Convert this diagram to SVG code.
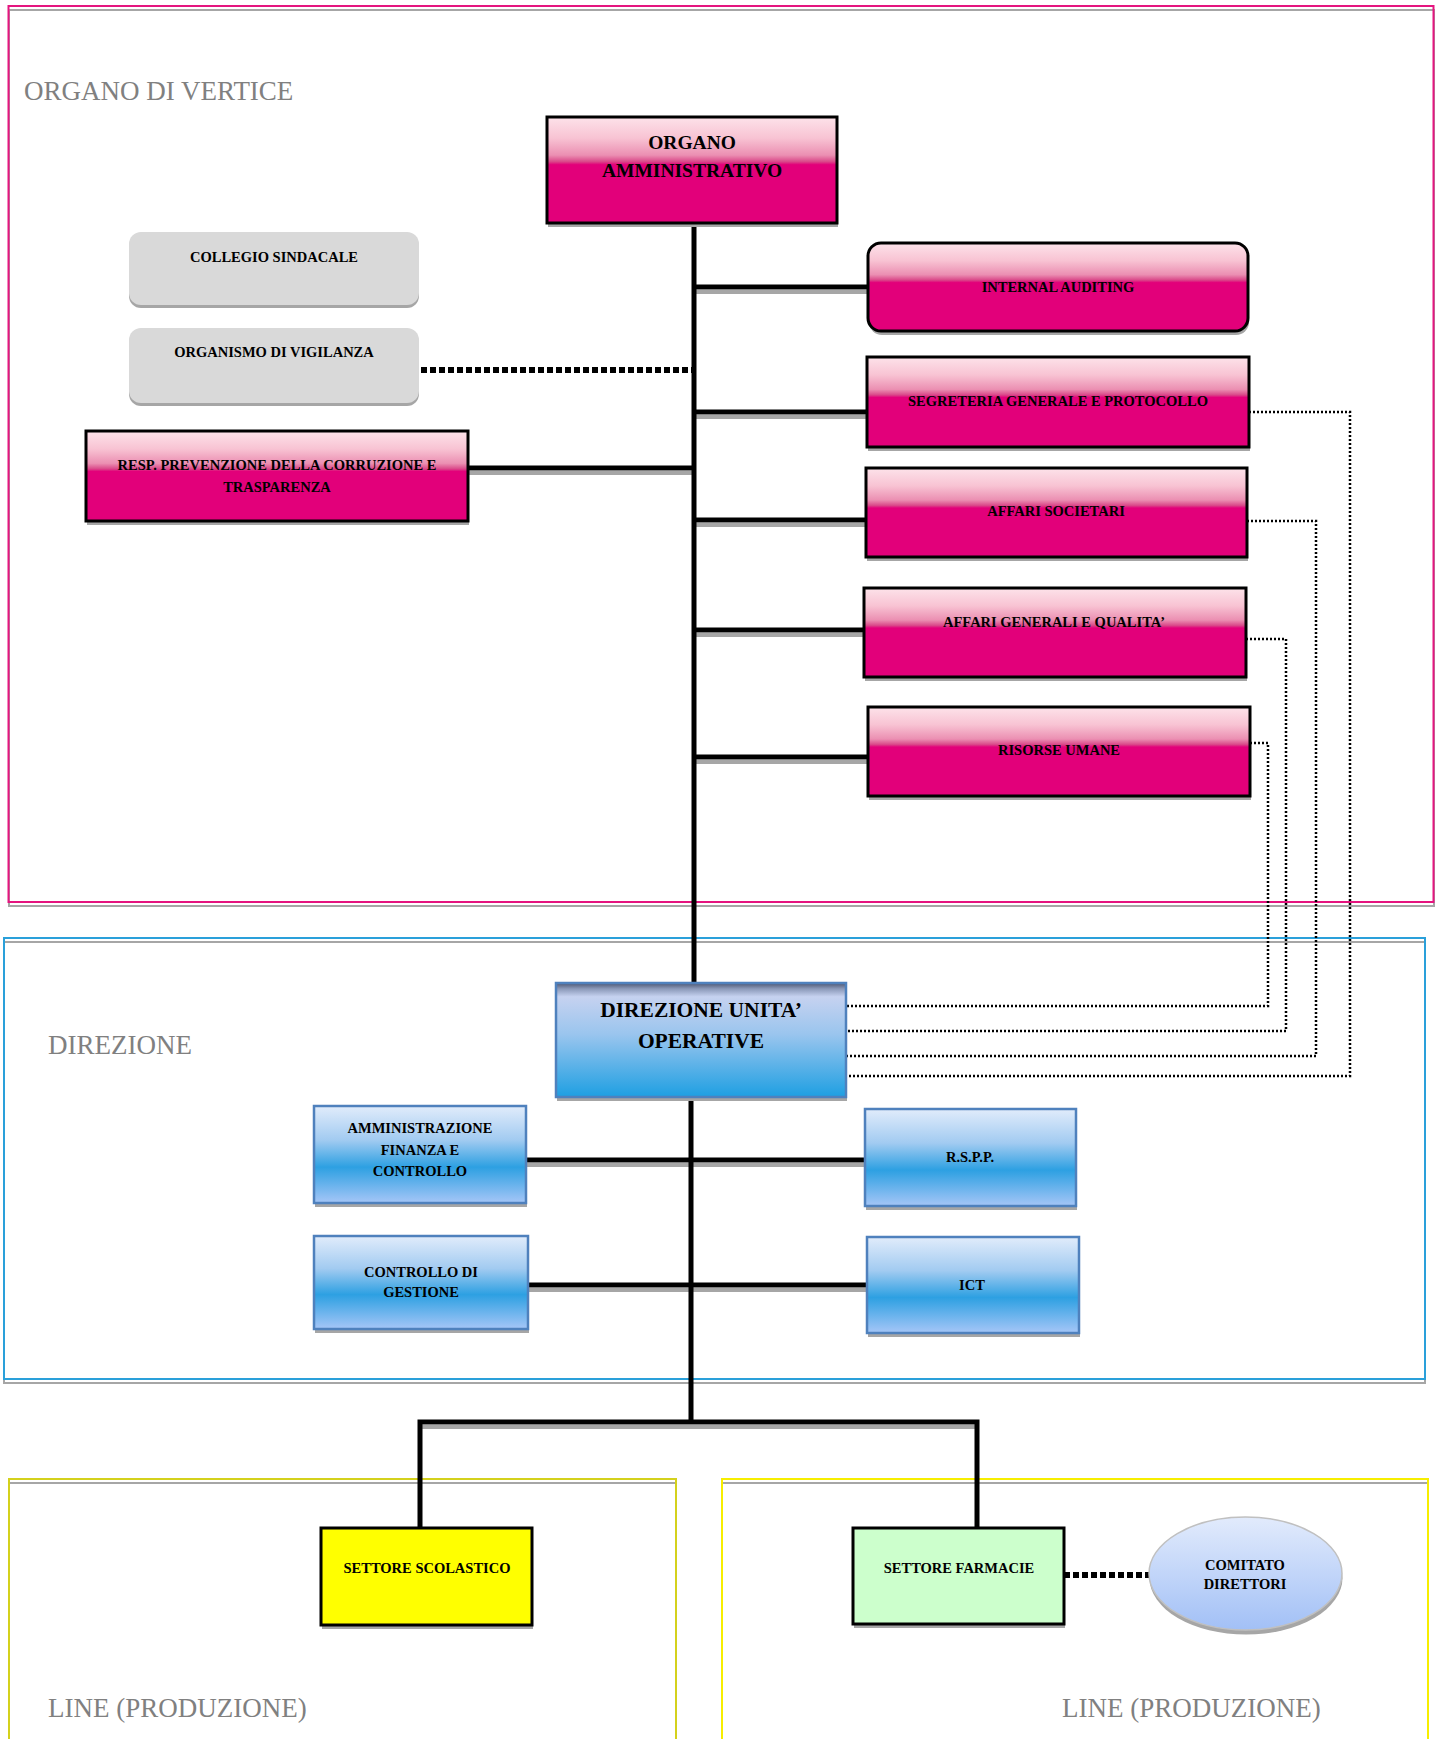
<svg xmlns="http://www.w3.org/2000/svg" width="1440" height="1739" viewBox="0 0 1440 1739">
<defs>
<linearGradient id="gPink" x1="0" y1="0" x2="0" y2="1">
<stop offset="0" stop-color="#fde3ea"/>
<stop offset="0.2" stop-color="#f8c3d3"/>
<stop offset="0.36" stop-color="#eb8fb2"/>
<stop offset="0.42" stop-color="#da4a8a"/>
<stop offset="0.45" stop-color="#e2007a"/>
<stop offset="1" stop-color="#e2007a"/>
</linearGradient>
<linearGradient id="gBlue" x1="0" y1="0" x2="0" y2="1">
<stop offset="0" stop-color="#e1ecfb"/>
<stop offset="0.35" stop-color="#a2cbf1"/>
<stop offset="0.63" stop-color="#2da0e2"/>
<stop offset="1" stop-color="#a6c6f7"/>
</linearGradient>
<linearGradient id="gDir" x1="0" y1="0" x2="0" y2="1">
<stop offset="0" stop-color="#4b5570"/>
<stop offset="0.05" stop-color="#8a98b8"/>
<stop offset="0.12" stop-color="#c6d2f0"/>
<stop offset="0.45" stop-color="#9ac5ee"/>
<stop offset="1" stop-color="#1e9fe2"/>
</linearGradient>
<linearGradient id="gEll" x1="0" y1="0" x2="0" y2="1">
<stop offset="0" stop-color="#e2ebfc"/>
<stop offset="1" stop-color="#a2c0f6"/>
</linearGradient>
</defs>
<style>
.lbl{font-family:"Liberation Serif",serif;font-size:27px;fill:#808080}
.t{font-family:"Liberation Serif",serif;font-weight:bold;font-size:14.5px;fill:#000;text-anchor:middle}
.big{font-size:19.5px}
.dir{font-size:21.5px}
.pink{fill:url(#gPink);stroke:#000;stroke-width:3}
.gray{fill:#d9d9d9}
.blue{fill:url(#gBlue);stroke:#4f81bd;stroke-width:2.5}
.sh{fill:#a6a6a6}
.ln{stroke:#000;stroke-width:5;fill:none}
.lsh{stroke:#a6a6a6;stroke-width:4;fill:none}
.dot{stroke:#000;stroke-width:2.5;stroke-dasharray:2 2;fill:none}
.thick{stroke:#000;stroke-width:6;stroke-dasharray:6 3;fill:none}
</style>
<rect width="1440" height="1739" fill="#fff"/>

<g id="frames">
<rect x="9" y="10" width="1425" height="896" fill="none" stroke="#a6a6a6" stroke-width="2"/>
<rect x="8.5" y="6" width="1425" height="896" fill="none" stroke="#e5157f" stroke-width="2"/>
<rect x="4" y="942" width="1421" height="441" fill="none" stroke="#a6a6a6" stroke-width="2"/>
<rect x="4" y="938" width="1421" height="441" fill="none" stroke="#2aa0da" stroke-width="2"/>
<rect x="9" y="1483" width="667" height="300" fill="none" stroke="#a6a6a6" stroke-width="2"/>
<rect x="9" y="1479" width="667" height="300" fill="none" stroke="#d4d11c" stroke-width="2"/>
<rect x="722" y="1483" width="706" height="300" fill="none" stroke="#a6a6a6" stroke-width="2"/>
<rect x="722" y="1479" width="706" height="300" fill="none" stroke="#f7ee00" stroke-width="2"/>
<text class="lbl" x="24" y="100">ORGANO DI VERTICE</text>
<text class="lbl" x="48" y="1054">DIREZIONE</text>
<text class="lbl" x="48" y="1717">LINE (PRODUZIONE)</text>
<text class="lbl" x="1062" y="1717">LINE (PRODUZIONE)</text>
</g>

<g id="connectors">
<line class="lsh" x1="694" y1="292" x2="868" y2="292"/>
<line class="lsh" x1="694" y1="417" x2="867" y2="417"/>
<line class="lsh" x1="694" y1="525" x2="866" y2="525"/>
<line class="lsh" x1="694" y1="635" x2="864" y2="635"/>
<line class="lsh" x1="694" y1="762" x2="868" y2="762"/>
<line class="lsh" x1="468" y1="473" x2="694" y2="473"/>
<line class="lsh" x1="526" y1="1165" x2="865" y2="1165"/>
<line class="lsh" x1="528" y1="1290" x2="867" y2="1290"/>
<line class="lsh" x1="420" y1="1427" x2="977" y2="1427"/>
<line class="ln" x1="694" y1="224" x2="694" y2="983"/>
<line class="ln" x1="691" y1="1097" x2="691" y2="1424"/>
<line class="ln" x1="694" y1="287" x2="868" y2="287"/>
<line class="ln" x1="694" y1="412" x2="867" y2="412"/>
<line class="ln" x1="694" y1="520" x2="866" y2="520"/>
<line class="ln" x1="694" y1="630" x2="864" y2="630"/>
<line class="ln" x1="694" y1="757" x2="868" y2="757"/>
<line class="ln" x1="468" y1="468" x2="694" y2="468"/>
<line class="ln" x1="526" y1="1160" x2="865" y2="1160"/>
<line class="ln" x1="528" y1="1285" x2="867" y2="1285"/>
<path class="ln" d="M420,1528 V1422 H977 V1528"/>
<line class="thick" x1="421" y1="370" x2="692" y2="370"/>
<line class="thick" x1="1064" y1="1575" x2="1149" y2="1575"/>
<path class="dot" d="M1249,412 H1350 V1076 H846"/>
<path class="dot" d="M1247,521 H1316 V1056 H846"/>
<path class="dot" d="M1246,639 H1286 V1031 H846"/>
<path class="dot" d="M1250,743 H1268 V1006 H846"/>
</g>

<g id="organo-amministrativo">
<rect class="sh" x="548" y="121" width="290" height="106"/>
<rect class="pink" x="547" y="117" width="290" height="106"/>
<text class="t big" x="692" y="149">ORGANO</text>
<text class="t big" x="692" y="177">AMMINISTRATIVO</text>
</g>

<g id="collegio-sindacale">
<rect class="sh" x="129" y="235" width="290" height="73" rx="12"/>
<rect class="gray" x="129" y="232" width="290" height="73" rx="12"/>
<text class="t" x="274" y="262">COLLEGIO SINDACALE</text>
</g>

<g id="organismo-vigilanza">
<rect class="sh" x="129" y="331" width="290" height="75" rx="12"/>
<rect class="gray" x="129" y="328" width="290" height="75" rx="12"/>
<text class="t" x="274" y="357">ORGANISMO DI VIGILANZA</text>
</g>

<g id="resp-prevenzione">
<rect class="sh" x="87" y="435" width="382" height="90"/>
<rect class="pink" x="86" y="431" width="382" height="90"/>
<text class="t" x="277" y="470">RESP. PREVENZIONE DELLA CORRUZIONE E</text>
<text class="t" x="277" y="492">TRASPARENZA</text>
</g>

<g id="internal-auditing">
<rect class="sh" x="869" y="247" width="380" height="88" rx="13"/>
<rect class="pink" x="868" y="243" width="380" height="88" rx="13"/>
<text class="t" x="1058" y="292">INTERNAL AUDITING</text>
</g>

<g id="segreteria">
<rect class="sh" x="868" y="361" width="382" height="90"/>
<rect class="pink" x="867" y="357" width="382" height="90"/>
<text class="t" x="1058" y="406">SEGRETERIA GENERALE E PROTOCOLLO</text>
</g>

<g id="affari-societari">
<rect class="sh" x="867" y="472" width="381" height="89"/>
<rect class="pink" x="866" y="468" width="381" height="89"/>
<text class="t" x="1056" y="516">AFFARI SOCIETARI</text>
</g>

<g id="affari-generali">
<rect class="sh" x="865" y="592" width="382" height="89"/>
<rect class="pink" x="864" y="588" width="382" height="89"/>
<text class="t" x="1054" y="627">AFFARI GENERALI E QUALITA’</text>
</g>

<g id="risorse-umane">
<rect class="sh" x="869" y="711" width="382" height="89"/>
<rect class="pink" x="868" y="707" width="382" height="89"/>
<text class="t" x="1059" y="755">RISORSE UMANE</text>
</g>

<g id="direzione">
<rect class="sh" x="557" y="987" width="290" height="114"/>
<rect x="556" y="983" width="290" height="114" fill="url(#gDir)" stroke="#4f81bd" stroke-width="2.5"/>
<text class="t dir" x="701" y="1017">DIREZIONE UNITA’</text>
<text class="t dir" x="701" y="1048">OPERATIVE</text>
</g>

<g id="amministrazione">
<rect class="sh" x="315" y="1110" width="212" height="97"/>
<rect class="blue" x="314" y="1106" width="212" height="97"/>
<text class="t" x="420" y="1133">AMMINISTRAZIONE</text>
<text class="t" x="420" y="1155">FINANZA E</text>
<text class="t" x="420" y="1176">CONTROLLO</text>
</g>

<g id="rspp">
<rect class="sh" x="866" y="1113" width="211" height="97"/>
<rect class="blue" x="865" y="1109" width="211" height="97"/>
<text class="t" x="970" y="1162">R.S.P.P.</text>
</g>

<g id="controllo-gestione">
<rect class="sh" x="315" y="1240" width="214" height="93"/>
<rect class="blue" x="314" y="1236" width="214" height="93"/>
<text class="t" x="421" y="1277">CONTROLLO DI</text>
<text class="t" x="421" y="1297">GESTIONE</text>
</g>

<g id="ict">
<rect class="sh" x="868" y="1241" width="212" height="96"/>
<rect class="blue" x="867" y="1237" width="212" height="96"/>
<text class="t" x="972" y="1290">ICT</text>
</g>

<g id="settore-scolastico">
<rect class="sh" x="322" y="1532" width="211" height="97"/>
<rect x="321" y="1528" width="211" height="97" fill="#ffff00" stroke="#000" stroke-width="3"/>
<text class="t" x="427" y="1573">SETTORE SCOLASTICO</text>
</g>

<g id="settore-farmacie">
<rect class="sh" x="854" y="1532" width="211" height="96"/>
<rect x="853" y="1528" width="211" height="96" fill="#ccffcc" stroke="#000" stroke-width="3"/>
<text class="t" x="959" y="1573">SETTORE FARMACIE</text>
</g>

<g id="comitato-direttori">
<ellipse cx="1246" cy="1578" rx="96.5" ry="56.5" fill="#a6a6a6"/>
<ellipse cx="1245.5" cy="1573.5" rx="96.5" ry="56.5" fill="url(#gEll)" stroke="#c0c0c0" stroke-width="1.5"/>
<text class="t" x="1245" y="1570">COMITATO</text>
<text class="t" x="1245" y="1589">DIRETTORI</text>
</g>
</svg>
